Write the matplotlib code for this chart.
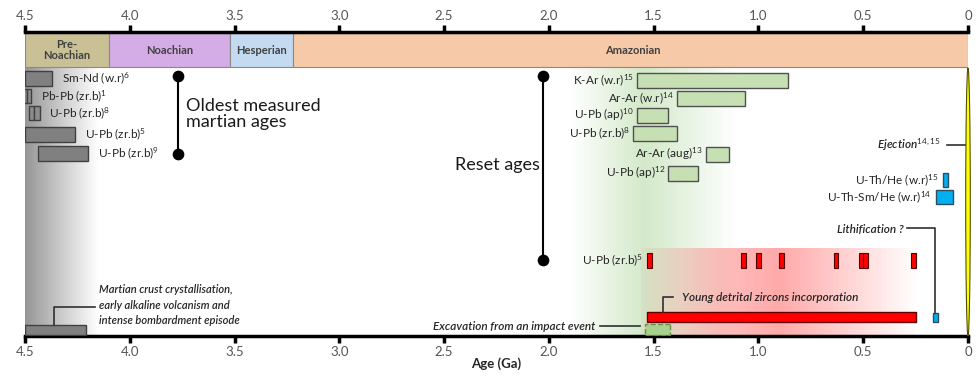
import numpy as np
import matplotlib
matplotlib.use("Agg")
import matplotlib.pyplot as plt
from matplotlib.patches import Ellipse

plt.rcParams['font.family'] = ['Lato', 'DejaVu Sans']
plt.rcParams['mathtext.fontset'] = 'custom'
plt.rcParams['mathtext.rm'] = 'Lato'
plt.rcParams['mathtext.it'] = 'Lato:italic'
plt.rcParams['mathtext.bf'] = 'Lato:bold'

# Martian periods (Ga)
periods = ['Pre-\nNoachian', 'Noachian', 'Hesperian', 'Amazonian']
period_start = [4.5, 4.1, 3.52, 3.22]
period_end = [4.1, 3.52, 3.22, 0.0]
period_colors = ['#c9c096', '#d4acE6', '#c3daf0', '#f6c9a8']

# Oldest measured ages (grey)
old_labels = ['Sm-Nd (w.r)$^{6}$', 'Pb-Pb (zr.b)$^{1}$', 'U-Pb (zr.b)$^{8}$',
              'U-Pb (zr.b)$^{5}$', 'U-Pb (zr.b)$^{9}$']
old_start = [4.50, 4.51, 4.48, 4.50, 4.44]
old_end = [4.37, 4.47, 4.43, 4.26, 4.20]
old_split = [False, True, True, False, False]

# Reset ages (green)
reset_labels = ['K-Ar (w.r)$^{15}$', 'Ar-Ar (w.r)$^{14}$', 'U-Pb (ap)$^{10}$',
                'U-Pb (zr.b)$^{8}$', 'Ar-Ar (aug)$^{13}$', 'U-Pb (ap)$^{12}$']
reset_start = [1.58, 1.39, 1.58, 1.60, 1.25, 1.43]
reset_end = [0.86, 1.065, 1.43, 1.39, 1.14, 1.29]

# Young zircon U-Pb ages (red)
zircon_ages = [1.52, 1.07, 1.00, 0.89, 0.63, 0.51, 0.49, 0.26]
zircon_width = 0.022

# (U-Th)/He ages (blue)
he_labels = ['U-Th/He (w.r)$^{15}$', 'U-Th-Sm/He (w.r)$^{14}$']
he_start = [0.120, 0.153]
he_end = [0.096, 0.072]

# events
crust_event = (4.50, 4.21)
detrital_event = (1.53, 0.25)
excavation_event = (1.54, 1.42)
lithification_event = (0.168, 0.144)

tick_vals = [4.5, 4.0, 3.5, 3.0, 2.5, 2.0, 1.5, 1.0, 0.5, 0.0]
tick_labels = ['4.5', '4.0', '3.5', '3.0', '2.5', '2.0', '1.5', '1.0', '0.5', '0']

# layout: y is measured downward from the top axis line
old_rows = [78, 96, 113, 134, 153]
reset_rows = [80, 98, 115, 133, 154, 173]
he_rows = [180, 197]
txt = '#262626'

fig = plt.figure(figsize=(9.8, 3.78), dpi=100)
ax = fig.add_axes([25 / 980, 42 / 378, 943 / 980, 304 / 378])


def gradient(x0, x1, y0, y1, rgb, xs, alphas):
    # horizontal colour fade, alpha profile given from left (old) to right (young)
    n = 300
    xx = np.linspace(x0, x1, n)
    a = np.interp(-xx, [-v for v in xs], alphas)
    img = np.ones((1, n, 4))
    img[0, :, :3] = rgb
    img[0, :, 3] = a
    ax.imshow(img, extent=(x0, x1, y1, y0), aspect='auto', zorder=0, interpolation='bilinear')


# background gradients
gradient(4.5, 4.15, 67, 336, (0.45, 0.45, 0.45), [4.5, 4.32, 4.15], [0.75, 0.35, 0.0])
gradient(1.90, 1.10, 68, 336, (0.55, 0.78, 0.45), [1.90, 1.55, 1.45, 1.10], [0.0, 0.38, 0.3, 0.0])
gradient(1.56, 0.24, 248, 336, (1.0, 0.25, 0.25), [1.56, 1.2, 0.9, 0.6, 0.24], [0.04, 0.33, 0.45, 0.25, 0.0])

# periods band
for name, s, e, c in zip(periods, period_start, period_end, period_colors):
    ax.barh(50, s - e, left=e, height=34, color=c, edgecolor='#8a8a8a', lw=0.8, zorder=2)
    xm = (s + e) / 2 if name != 'Amazonian' else 1.6
    ax.text(xm, 50, name, ha='center', va='center', fontsize=8, fontweight='bold',
            color='#404040', linespacing=1.05, zorder=3)

# oldest ages
for lab, s, e, y, sp in zip(old_labels, old_start, old_end, old_rows, old_split):
    if sp:
        m = (s + e) / 2
        ax.barh(y, s - m, left=m, height=14, color='#8c8c8c', edgecolor='#404040', lw=1, zorder=3)
        ax.barh(y, m - e, left=e, height=14, color='#8c8c8c', edgecolor='#404040', lw=1, zorder=3)
    else:
        ax.barh(y, s - e, left=e, height=15, color='#808080', edgecolor='#404040', lw=1, zorder=3)
    ax.annotate(lab, (e, y), xytext=(7, 0), textcoords='offset points', ha='left', va='center',
                fontsize=8.5, color=txt, zorder=4)

ax.plot([3.77, 3.77], [old_rows[0] - 2, old_rows[-1] + 1], color='black', lw=1.5, zorder=4)
ax.scatter([3.77, 3.77], [old_rows[0] - 2, old_rows[-1] + 1], s=55, color='black', zorder=5)
ax.text(3.73, 114, 'Oldest measured\nmartian ages', ha='left', va='center', fontsize=13,
        color='#1a1a1a', linespacing=1.05)

# reset ages
for lab, s, e, y in zip(reset_labels, reset_start, reset_end, reset_rows):
    ax.barh(y, s - e, left=e, height=15, color='#c6e0b4', edgecolor='#505050', lw=1, zorder=3)
    ax.annotate(lab, (s, y), xytext=(-2, 0), textcoords='offset points', ha='right', va='center',
                fontsize=8.5, color=txt, zorder=4)

ax.plot([2.03, 2.03], [76, 260], color='black', lw=1.5, zorder=4)
ax.scatter([2.03, 2.03], [76, 260], s=55, color='black', zorder=5)
ax.text(2.045, 165, 'Reset ages', ha='right', va='center', fontsize=13, color='#1a1a1a')

# young zircons
for a in zircon_ages:
    ax.barh(260, zircon_width, left=a - zircon_width / 2, height=15, color='#ff0000',
            edgecolor='#500000', lw=0.8, zorder=3)
ax.annotate('U-Pb (zr.b)$^{5}$', (zircon_ages[0] + zircon_width / 2, 260), xytext=(-3, 0),
            textcoords='offset points', ha='right', va='center', fontsize=8.5, color=txt)

# (U-Th)/He
for lab, s, e, y in zip(he_labels, he_start, he_end, he_rows):
    ax.barh(y, s - e, left=e, height=14, color='#00b0f0', edgecolor='#2f4f5f', lw=1, zorder=3)
    ax.annotate(lab, (s, y), xytext=(-3, 0), textcoords='offset points', ha='right', va='center',
                fontsize=8.5, color=txt)

# crust event
ax.barh(330, crust_event[0] - crust_event[1], left=crust_event[1], height=10, color='#808080',
        edgecolor='#404040', lw=1, zorder=3)
ax.plot([4.36, 4.36, 4.166], [325, 307, 307], color='#303030', lw=1.2, zorder=3)
ax.text(4.145, 305, 'Martian crust crystallisation,\nearly alkaline volcanism and\nintense bombardment episode',
        ha='left', va='center', fontsize=8, style='italic', fontweight='semibold', color='#262626',
        linespacing=1.45)

# detrital zircons incorporation
ax.barh(317, detrital_event[0] - detrital_event[1], left=detrital_event[1], height=10,
        color='#ff0000', edgecolor='#600000', lw=1, zorder=3, joinstyle='round')
ax.plot([1.456, 1.456, 1.41], [312, 297, 297], color='#303030', lw=1.2, zorder=3)
ax.text(1.365, 297, 'Young detrital zircons incorporation', ha='left', va='center', fontsize=8.5,
        style='italic', fontweight='semibold', color='#262626')

# excavation
ax.barh(329, excavation_event[0] - excavation_event[1], left=excavation_event[1], height=11,
        color='#a9d18e', edgecolor='#6a8f50', lw=1, ls='--', zorder=3)
ax.plot([1.757, 1.566], [326, 326], color='#303030', lw=1.2, zorder=3)
ax.text(1.78, 326, 'Excavation from an impact event', ha='right', va='center', fontsize=8.5,
        style='italic', fontweight='semibold', color='#262626')

# lithification
ax.barh(317, lithification_event[0] - lithification_event[1], left=lithification_event[1],
        height=9, color='#00b0f0', edgecolor='#2f4f5f', lw=1, zorder=3)
ax.plot([0.156, 0.156, 0.29], [313, 228, 228], color='#303030', lw=1.2, zorder=3)
ax.text(0.305, 229, 'Lithification ?', ha='right', va='center', fontsize=8.5, style='italic',
        fontweight='semibold', color='#262626')

# ejection
ax.add_patch(Ellipse((0, 202), 0.022, 268, facecolor='#ffff00', edgecolor='#505000', lw=0.8,
                     zorder=6, clip_on=False))
ax.plot([0.1, 0.005], [145, 145], color='#303030', lw=1.2, zorder=3)
ax.text(0.13, 145, 'Ejection$^{14,15}$', ha='right', va='center', fontsize=8.5, style='italic',
        fontweight='semibold', color='#262626')

# axes
ax.set_xlim(4.5, 0)
ax.set_ylim(336, 32)
ax.set_xticks(tick_vals)
ax.set_xticklabels(tick_labels)
ax.set_yticks([])
for s in ['left', 'right']:
    ax.spines[s].set_visible(False)
for s in ['top', 'bottom']:
    ax.spines[s].set_linewidth(2.5)
ax.tick_params(axis='x', top=True, labeltop=True, bottom=True, labelbottom=True,
               direction='out', length=5, width=2.5, labelsize=9.5, labelcolor='#555555', pad=2)
ax.set_xlabel('Age (Ga)', fontsize=9.5, fontweight='bold', color='#262626', labelpad=0)

fig.savefig('out.png', dpi=100)
